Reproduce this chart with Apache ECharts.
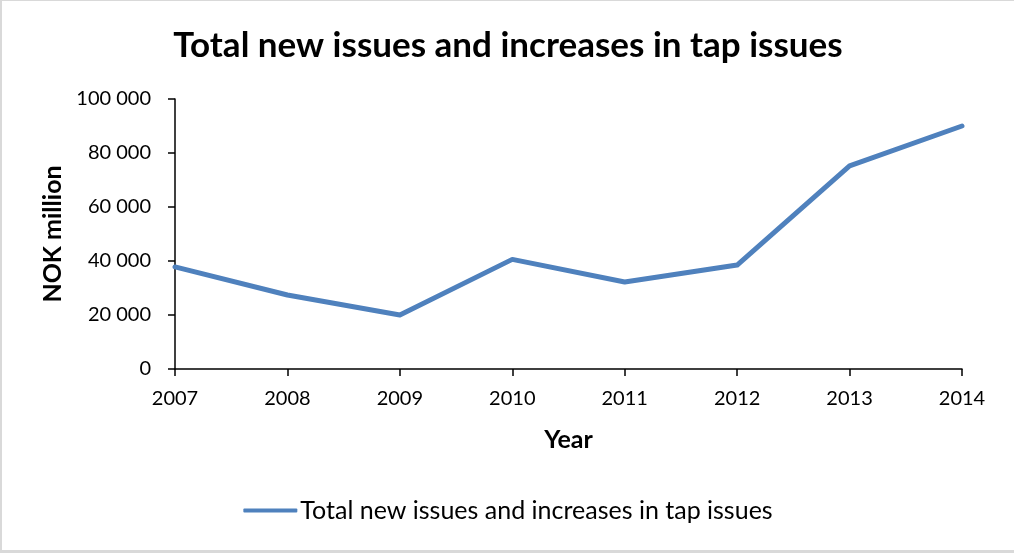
<!DOCTYPE html>
<html>
<head>
<meta charset="utf-8">
<script src="https://cdn.jsdelivr.net/npm/echarts@6/dist/echarts.min.js"></script>
<style>
  html, body { margin: 0; padding: 0; background: #fff; }
  #frame {
    width: 1014px; height: 553px; box-sizing: border-box;
    border-left: 2px solid #d9d9d9; border-top: 1px solid #d9d9d9; border-bottom: 3px solid #d9d9d9;
  }
  #chart { width: 100%; height: 100%; }
</style>
</head>
<body>
<div id="frame"><div id="chart"></div></div>
<script>
// Years on the category axis
const years = ['2007', '2008', '2009', '2010', '2011', '2012', '2013', '2014'];
// Total new issues and increases in tap issues, NOK million
const issueValues = [37800, 27400, 20000, 40600, 32200, 38500, 75200, 90000];
const seriesName = 'Total new issues and increases in tap issues';
const yTicks = { min: 0, max: 100000, interval: 20000 };

const FONT = 'Lato, "Open Sans", sans-serif';
const fmt = v => String(v).replace(/\B(?=(\d{3})+(?!\d))/g, ' ');

const chart = echarts.init(document.getElementById('chart'), null, { renderer: 'canvas' });
chart.setOption({
  animation: false,
  backgroundColor: '#fff',
  title: {
    text: 'Total new issues and increases in tap issues',
    left: 'center', top: 22,
    textStyle: { fontFamily: FONT, fontSize: 35, fontWeight: 'bold', color: '#000' }
  },
  grid: { left: 173, right: 52, top: 98, bottom: 181 },
  legend: {
    bottom: 22, left: 'center',
    itemWidth: 54, itemHeight: 4, itemGap: 4,
    icon: 'roundRect',
    data: [seriesName],
    textStyle: { fontFamily: FONT, fontSize: 25, color: '#000', padding: [0, 0, 0, -2] }
  },
  xAxis: {
    type: 'category', data: years, boundaryGap: false,
    name: 'Year', nameLocation: 'middle', nameGap: 58,
    nameTextStyle: { fontFamily: FONT, fontSize: 25, fontWeight: 'bold', color: '#000' },
    axisLine: { lineStyle: { color: '#000', width: 1.5 } },
    axisTick: { show: true, length: 7, alignWithLabel: true, lineStyle: { color: '#000', width: 1.5 } },
    axisLabel: { fontFamily: FONT, fontSize: 20, color: '#000', margin: 20 },
    splitLine: { show: false }
  },
  yAxis: {
    type: 'value', min: yTicks.min, max: yTicks.max, interval: yTicks.interval,
    name: 'NOK million', nameLocation: 'middle', nameGap: 110, nameRotate: 90,
    nameTextStyle: { fontFamily: FONT, fontSize: 25, fontWeight: 'bold', color: '#000' },
    axisLine: { show: true, lineStyle: { color: '#000', width: 1.5 } },
    axisTick: { show: true, length: 7, lineStyle: { color: '#000', width: 1.5 } },
    axisLabel: { fontFamily: FONT, fontSize: 20, color: '#000', margin: 24, formatter: fmt },
    splitLine: { show: false }
  },
  series: [{
    name: seriesName, type: 'line', data: issueValues,
    showSymbol: false, symbol: 'none',
    lineStyle: { color: '#4f81bd', width: 5, cap: 'round', join: 'round' },
    itemStyle: { color: '#4f81bd' }
  }]
});
</script>
</body>
</html>
